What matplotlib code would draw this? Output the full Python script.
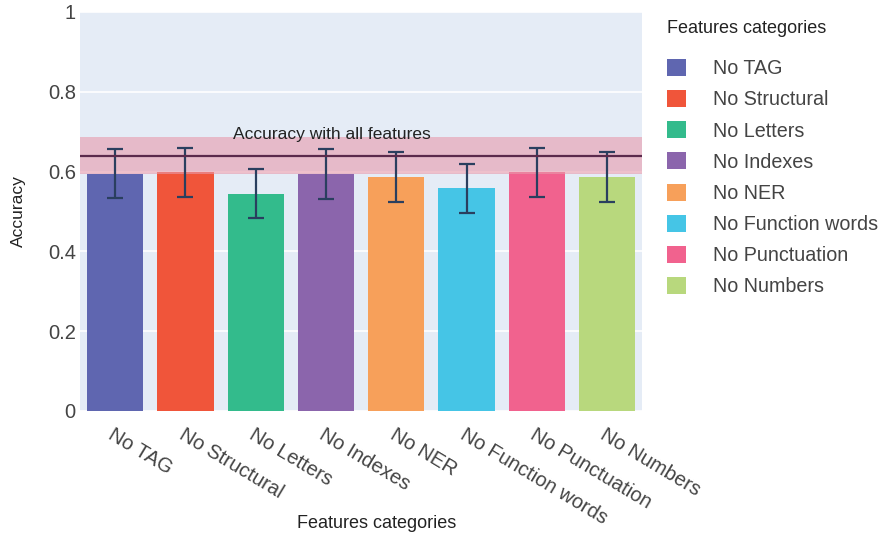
import matplotlib
matplotlib.use("Agg")
import matplotlib.pyplot as plt
from matplotlib.patches import Patch

plt.rcParams["font.family"] = ["Liberation Sans", "DejaVu Sans"]

# ── 데이터 ──
categories = ["No TAG", "No Structural", "No Letters", "No Indexes",
              "No NER", "No Function words", "No Punctuation", "No Numbers"]
accuracy = [0.595, 0.598, 0.545, 0.594, 0.587, 0.558, 0.598, 0.587]
err = [0.061, 0.061, 0.061, 0.062, 0.062, 0.062, 0.062, 0.062]
colors = ["#5F66B0", "#F0553A", "#33BB8C", "#8B65AC",
          "#F7A05A", "#45C5E6", "#F1628E", "#B8D87D"]

all_acc = 0.64
all_err = 0.047

fig = plt.figure(figsize=(8.82, 5.35), dpi=100)
ax = fig.add_axes([0.0907, 0.2318, 0.6375, 0.7458])
ax.set_facecolor("#E5ECF6")

x = list(range(len(categories)))
ax.bar(x, accuracy, width=0.8, color=colors, zorder=2)
ax.errorbar(x, accuracy, yerr=err, fmt="none", ecolor="#2A3F5F",
            elinewidth=1.6, capsize=5.5, capthick=1.6, zorder=4)

# 전체 피처 사용 시 정확도 (밴드 + 선)
ax.axhspan(all_acc - all_err, all_acc + all_err, color="#E79AAB", alpha=0.6, lw=0, zorder=3)
ax.axhline(all_acc, color="#5B2A4C", lw=1.6, zorder=5)
ax.text(0.448, all_acc + all_err - 0.013, "Accuracy with all features",
        transform=ax.get_yaxis_transform(), ha="center", va="bottom",
        fontsize=12.5, color="#222222", zorder=6)

ax.set_xlim(-0.5, len(categories) - 0.5)
ax.set_ylim(0, 1)
ax.set_yticks([0, 0.2, 0.4, 0.6, 0.8, 1])
ax.set_yticklabels(["0", "0.2", "0.4", "0.6", "0.8", "1"])
ax.set_xticks(x)
ax.set_xticklabels(categories, rotation=-31, ha="left", rotation_mode="anchor")
ax.tick_params(axis="both", length=0, labelsize=14.5, colors="#444444")
ax.tick_params(axis="x", pad=10)
ax.tick_params(axis="y", pad=3)
ax.grid(axis="y", color="white", lw=1.2, zorder=0)
for s in ax.spines.values():
    s.set_visible(False)

ax.set_ylabel("Accuracy", fontsize=12.5, color="#222222", labelpad=16)
fig.text(0.427, 0.006, "Features categories", ha="center", va="bottom",
         fontsize=13, color="#222222")

handles = [Patch(facecolor=c, edgecolor="none") for c in colors]
leg = fig.legend(handles, categories, loc="upper left", bbox_to_anchor=(0.75, 0.974),
                 frameon=False, fontsize=14.2, title="Features categories",
                 title_fontsize=13, handlelength=0.95, handleheight=0.95,
                 handletextpad=1.35, labelspacing=0.6, alignment="left",
                 borderaxespad=0, borderpad=0.3)
leg._legend_box.sep = 16
for t in leg.get_texts():
    t.set_color("#444444")
leg.get_title().set_color("#222222")

fig.savefig("out.png", dpi=100)
